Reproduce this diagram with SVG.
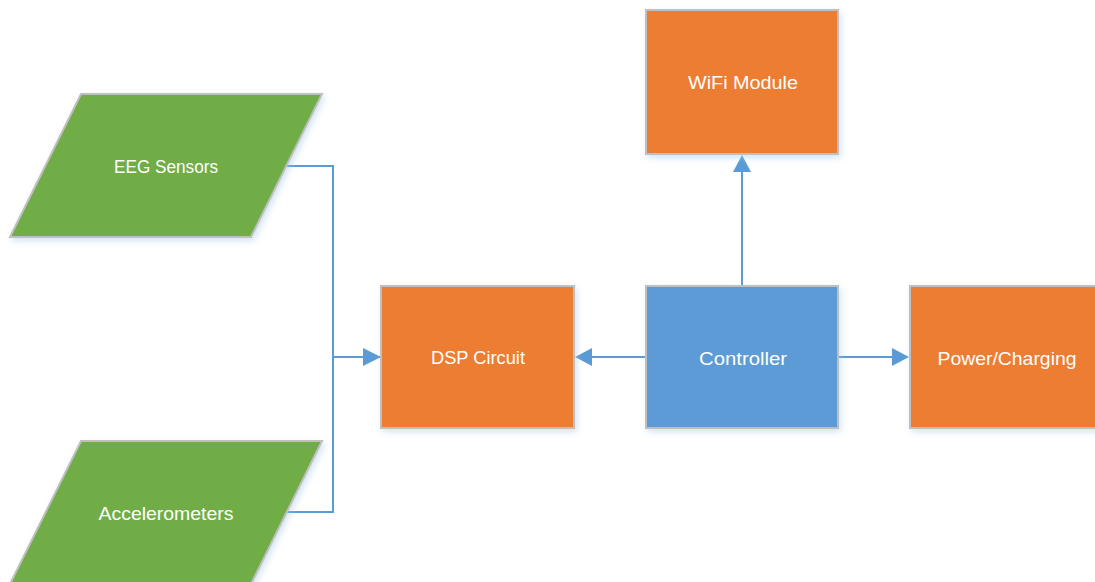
<svg xmlns="http://www.w3.org/2000/svg" width="1095" height="582" viewBox="0 0 1095 582">
<defs>
<style>
.green{fill:#70AD47;stroke:#BFBFBF;stroke-width:2}
.orange{fill:#ED7D31;stroke:#BFBFBF;stroke-width:2}
.blue{fill:#5B9BD5;stroke:#BFBFBF;stroke-width:2}
.lbl{font-family:"Liberation Sans",Arial,sans-serif;font-size:18.5px;fill:#FFFFFF;text-anchor:middle}
.conn{fill:none;stroke:#5B9BD5;stroke-width:2}
</style>
<filter id="sh" x="-10%" y="-10%" width="130%" height="130%">
<feDropShadow dx="2" dy="3" stdDeviation="3" flood-color="#9DC3E6" flood-opacity="0.45"/>
</filter>
<marker id="arr" viewBox="0 0 10 10" refX="10" refY="5" markerWidth="9" markerHeight="9" markerUnits="userSpaceOnUse" orient="auto">
<path d="M0,0 L10,5 L0,10 Z" fill="#5B9BD5"/>
</marker>
</defs>
<rect width="1095" height="582" fill="#FFFFFF"/>
<g id="connectors">
<polyline class="conn" points="286,166 333,166 333,512 286,512"/>
<line class="conn" x1="333" y1="357" x2="380" y2="357" stroke-width="2"/>
<path d="M363,348 L381,357 L363,366 Z" fill="#5B9BD5"/>
<line class="conn" x1="742" y1="286" x2="742" y2="170"/>
<path d="M733,172 L742,155 L751,172 Z" fill="#5B9BD5"/>
<line class="conn" x1="646" y1="357" x2="590" y2="357"/>
<path d="M592,348 L575,357 L592,366 Z" fill="#5B9BD5"/>
<line class="conn" x1="838" y1="357" x2="894" y2="357"/>
<path d="M892,348 L909,357 L892,366 Z" fill="#5B9BD5"/>
</g>
<g id="eeg">
<polygon class="green" filter="url(#sh)" points="81,94 322,94 251,237 10,237"/>
<text class="lbl" x="166" y="173" textLength="104" lengthAdjust="spacingAndGlyphs">EEG Sensors</text>
</g>
<g id="accel">
<polygon class="green" filter="url(#sh)" points="81,441 322,441 251,584 10,584"/>
<text class="lbl" x="166" y="520" textLength="135" lengthAdjust="spacingAndGlyphs">Accelerometers</text>
</g>
<g id="dsp">
<rect class="orange" filter="url(#sh)" x="381" y="286" width="193" height="142"/>
<text class="lbl" x="478" y="364" textLength="94" lengthAdjust="spacingAndGlyphs">DSP Circuit</text>
</g>
<g id="controller">
<rect class="blue" filter="url(#sh)" x="646" y="286" width="192" height="142"/>
<text class="lbl" x="743" y="365" textLength="88" lengthAdjust="spacingAndGlyphs">Controller</text>
</g>
<g id="wifi">
<rect class="orange" filter="url(#sh)" x="646" y="10" width="192" height="144"/>
<text class="lbl" x="743" y="89" textLength="110" lengthAdjust="spacingAndGlyphs">WiFi Module</text>
</g>
<g id="power">
<rect class="orange" filter="url(#sh)" x="910" y="286" width="192" height="142"/>
<text class="lbl" x="1007" y="365" textLength="139" lengthAdjust="spacingAndGlyphs">Power/Charging</text>
</g>
</svg>
